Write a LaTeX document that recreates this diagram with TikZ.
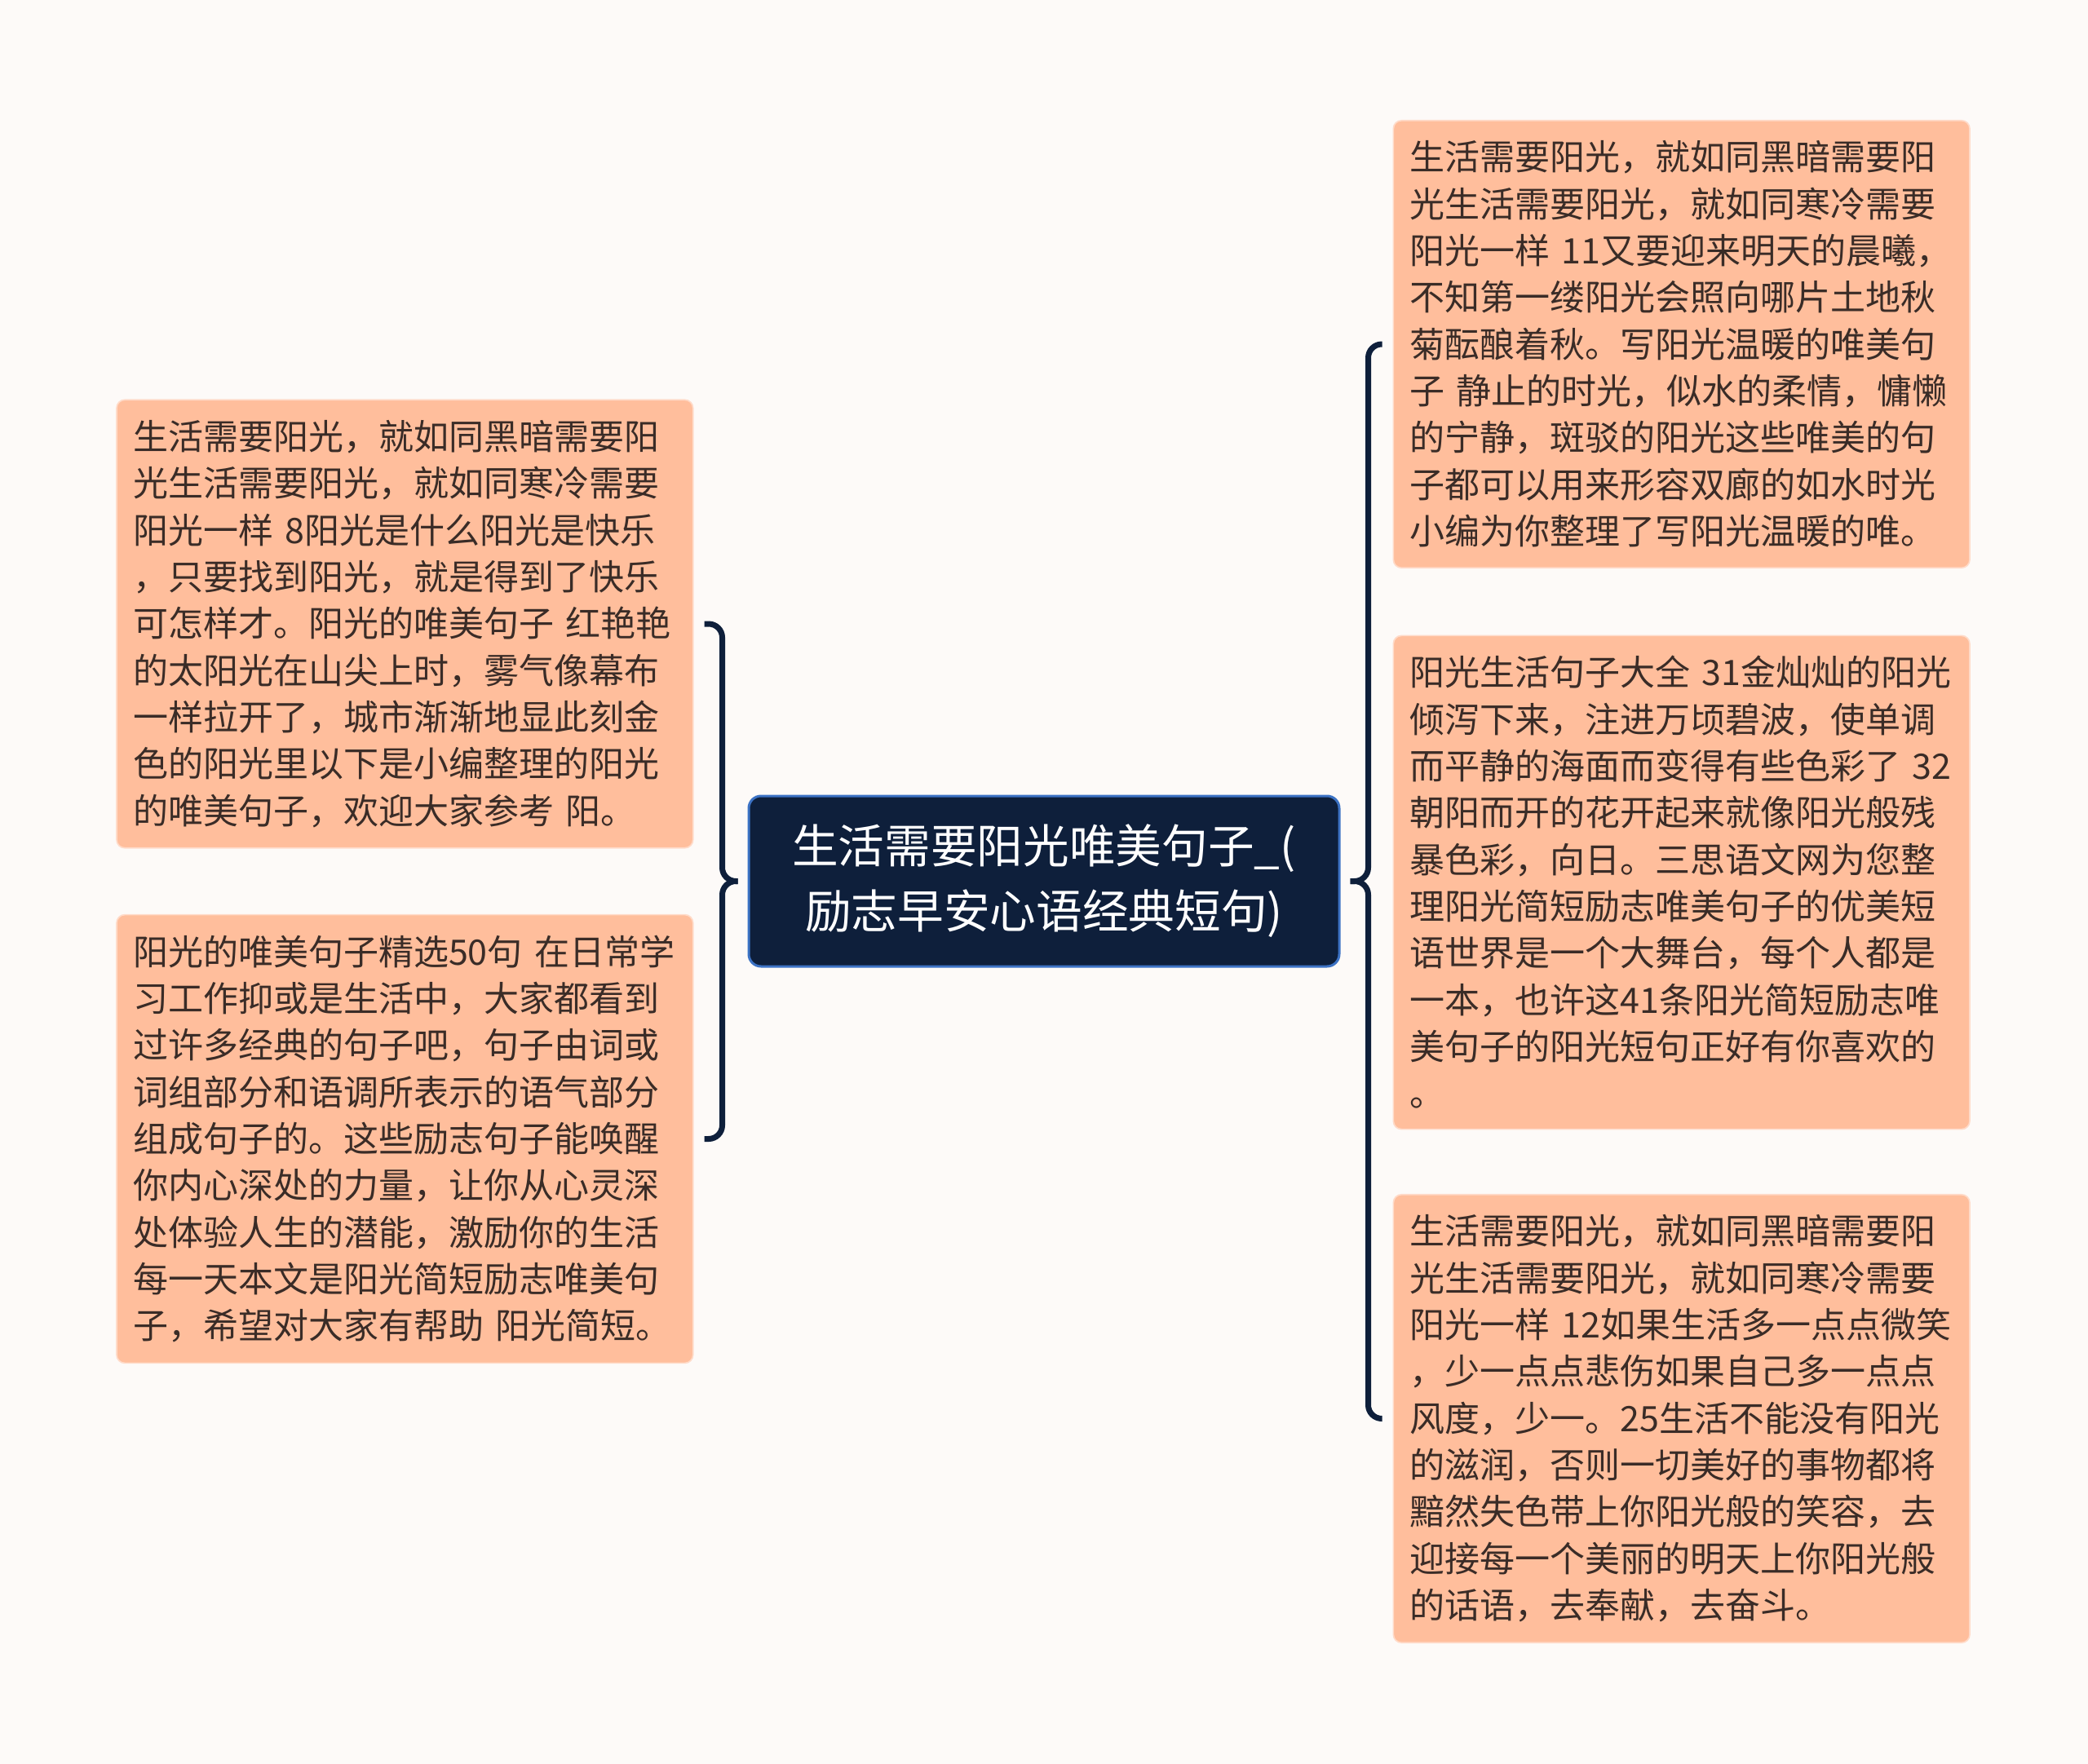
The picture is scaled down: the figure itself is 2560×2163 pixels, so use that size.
\documentclass[tikz,border=0pt]{standalone}
\usepackage{fontspec}
\setmainfont{Noto Sans CJK SC}
\usetikzlibrary{positioning}
\definecolor{paper}{HTML}{FDFAF8}
\definecolor{navy}{HTML}{0E1F3B}
\definecolor{edgeblue}{HTML}{3C72C4}
\definecolor{salmon}{HTML}{FFBE9C}
\definecolor{ink}{HTML}{3A2C27}
\tikzstyle{topic} = [rectangle, rounded corners=4.5pt, fill=navy, draw=edgeblue, line width=0.9pt, text=white, minimum width=217.2pt, minimum height=62.7pt, align=center, font=\fontsize{17pt}{24pt}\selectfont]
\tikzstyle{idea} = [rectangle, rounded corners=3pt, fill=salmon, draw=salmon!55!white, line width=0.5pt, text=ink, text width=200pt, inner xsep=6pt, inner ysep=7.5pt, align=left, font=\fontsize{12.9pt}{17.2pt}\selectfont]
\tikzstyle{bracket} = [draw=navy, line width=2.1pt, rounded corners=5pt]

\begin{document}
\begin{tikzpicture}[x=0.3pt, y=-0.3pt]

\fill[paper] (0,0) rectangle (2560,2163);

\node [topic] (main) at (1280,1080.5) {生活需要阳光唯美句子\_(\\励志早安心语经典短句)};

\node [idea, left=19.8pt of main, yshift=94.65pt] (left1) {生活需要阳光，就如同黑暗需要阳\\光生活需要阳光，就如同寒冷需要\\阳光一样 8阳光是什么阳光是快乐\\，只要找到阳光，就是得到了快乐\\可怎样才。阳光的唯美句子 红艳艳\\的太阳光在山尖上时，雾气像幕布\\一样拉开了，城市渐渐地显此刻金\\色的阳光里以下是小编整理的阳光\\的唯美句子，欢迎大家参考 阳。};
\node [idea, left=19.8pt of main, yshift=-94.8pt] (left2) {阳光的唯美句子精选50句 在日常学\\习工作抑或是生活中，大家都看到\\过许多经典的句子吧，句子由词或\\词组部分和语调所表示的语气部分\\组成句子的。这些励志句子能唤醒\\你内心深处的力量，让你从心灵深\\处体验人生的潜能，激励你的生活\\每一天本文是阳光简短励志唯美句\\子，希望对大家有帮助 阳光简短。};

\node [idea, right=19.2pt of main, yshift=197.55pt] (right1) {生活需要阳光，就如同黑暗需要阳\\光生活需要阳光，就如同寒冷需要\\阳光一样 11又要迎来明天的晨曦，\\不知第一缕阳光会照向哪片土地秋\\菊酝酿着秋。写阳光温暖的唯美句\\子 静止的时光，似水的柔情，慵懒\\的宁静，斑驳的阳光这些唯美的句\\子都可以用来形容双廊的如水时光\\小编为你整理了写阳光温暖的唯。};
\node [idea, right=19.2pt of main, yshift=-0.45pt] (right2) {阳光生活句子大全 31金灿灿的阳光\\倾泻下来，注进万顷碧波，使单调\\而平静的海面而变得有些色彩了 32\\朝阳而开的花开起来就像阳光般残\\暴色彩，向日。三思语文网为您整\\理阳光简短励志唯美句子的优美短\\语世界是一个大舞台，每个人都是\\一本，也许这41条阳光简短励志唯\\美句子的阳光短句正好有你喜欢的\\。};
\node [idea, right=19.2pt of main, yshift=-197.7pt] (right3) {生活需要阳光，就如同黑暗需要阳\\光生活需要阳光，就如同寒冷需要\\阳光一样 12如果生活多一点点微笑\\，少一点点悲伤如果自己多一点点\\风度，少一。25生活不能没有阳光\\的滋润，否则一切美好的事物都将\\黯然失色带上你阳光般的笑容，去\\迎接每一个美丽的明天上你阳光般\\的话语，去奉献，去奋斗。};

\draw [bracket] ([xshift=3.9pt]left1.east) -| ([xshift=-9.3pt]main.west) -- ([xshift=-3.6pt]main.west);
\draw [bracket] ([xshift=3.9pt]left2.east) -| ([xshift=-9.3pt]main.west) -- ([xshift=-3.6pt]main.west);
\draw [bracket] ([xshift=-3.9pt]right1.west) -| ([xshift=10.2pt]main.east) -- ([xshift=3.6pt]main.east);
\draw [bracket] ([xshift=-3.9pt]right3.west) -| ([xshift=10.2pt]main.east) -- ([xshift=3.6pt]main.east);

\end{tikzpicture}
\end{document}
